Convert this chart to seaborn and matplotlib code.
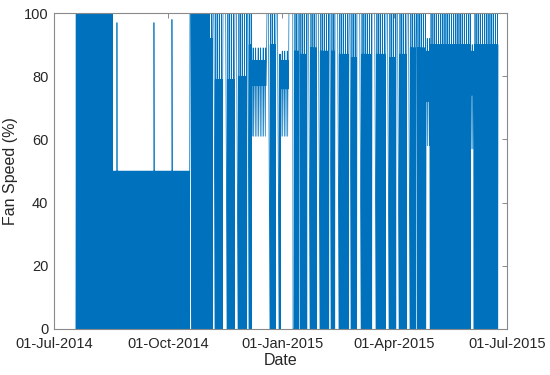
import numpy as np
import pandas as pd
import matplotlib
matplotlib.use("Agg")
import matplotlib.pyplot as plt
import matplotlib.dates as mdates
import seaborn as sns

# ---- data ---------------------------------------------------------------
# Contiguous periods of the record: boundaries (n+1) and per-period envelope
period_bounds = [
    "2014-07-18 17:00", "2014-08-17 12:00", "2014-10-18 14:00", "2014-10-19 22:00",
    "2014-11-02 12:00", "2014-11-06 02:00", "2014-11-07 17:00", "2014-11-14 05:00",
    "2014-11-17 10:00", "2014-11-23 19:00", "2014-11-26 07:00", "2014-12-03 12:00",
    "2014-12-05 02:00", "2014-12-07 12:00", "2014-12-19 14:00", "2014-12-22 00:00",
    "2014-12-26 22:00", "2014-12-29 07:00", "2014-12-30 22:00", "2015-01-06 07:00",
    "2015-01-10 10:00", "2015-01-14 10:00", "2015-01-15 05:00", "2015-01-20 22:00",
    "2015-01-23 07:00", "2015-01-28 22:00", "2015-01-31 07:00", "2015-02-07 14:00",
    "2015-02-09 05:00", "2015-02-12 10:00", "2015-02-15 14:00", "2015-02-23 17:00",
    "2015-02-25 07:00", "2015-03-02 02:00", "2015-03-05 10:00", "2015-03-14 05:00",
    "2015-03-17 10:00", "2015-03-25 12:00", "2015-03-27 22:00", "2015-04-02 14:00",
    "2015-04-05 00:00", "2015-04-11 10:00", "2015-04-13 19:00", "2015-04-18 17:00",
    "2015-04-19 12:00", "2015-04-26 17:00", "2015-04-30 00:00", "2015-06-02 00:00",
    "2015-06-04 10:00", "2015-06-23 17:00",
]
period_kind = [
    "cycling", "cycling", "steady", "cycling", "cycling", "steady", "cycling", "steady",
    "cycling", "steady", "cycling", "steady", "cycling", "modulating", "steady", "cycling",
    "steady", "cycling", "modulating", "steady", "cycling", "steady", "cycling", "steady",
    "cycling", "steady", "cycling", "steady", "cycling", "steady", "cycling", "steady",
    "cycling", "steady", "cycling", "steady", "cycling", "steady", "cycling", "steady",
    "cycling", "steady", "cycling", "steady", "cycling", "modulating", "cycling", "modulating",
    "cycling",
]
low_min = [0, 0, 100, 0, 0, 100, 0, 100, 0, 100, 0, 100, 0, 61, 100, 0, 100, 0, 61, 100,
           0, 100, 0, 100, 0, 100, 0, 100, 0, 100, 0, 100, 0, 100, 0, 100, 0, 100, 0, 100,
           0, 100, 0, 100, 0, 58, 0, 57, 0]
low_typ = [0, 0, 100, 0, 0, 100, 0, 100, 0, 100, 0, 100, 0, 77, 100, 0, 100, 0, 76, 100,
           0, 100, 0, 100, 0, 100, 0, 100, 0, 100, 0, 100, 0, 100, 0, 100, 0, 100, 0, 100,
           0, 100, 0, 100, 0, 72, 0, 74, 0]
high_typ = [100, 50, 100, 100, 92, 100, 79, 100, 79, 100, 80, 100, 90, 85, 100, 90, 100, 87, 85, 100,
            88, 100, 87, 100, 89, 100, 88, 100, 88, 100, 87, 100, 86, 100, 87, 100, 87, 100, 86, 100,
            87, 100, 89, 100, 89, 88, 90, 88, 90]
high_max = [100, 50, 100, 100, 100, 100, 100, 100, 100, 100, 100, 100, 100, 89, 100, 100, 100, 87, 88, 100,
            100, 100, 100, 100, 100, 100, 100, 100, 100, 100, 100, 100, 100, 100, 100, 100, 100, 100, 100, 100,
            100, 100, 100, 100, 100, 92, 100, 90, 100]

# isolated excursions
spike_time = ["2014-08-20 19:00", "2014-09-19 14:00", "2014-10-04 02:00", "2015-01-09 14:00"]
spike_value = [97, 97, 98, 0]

y_ticks = [0, 20, 40, 60, 80, 100]
x_ticks = ["2014-07-01", "2014-10-01", "2015-01-01", "2015-04-01", "2015-07-01"]

# ---- build the sample series --------------------------------------------
samples_per_day = {"cycling": 4.0, "modulating": 3.0, "steady": 1.0}
times, speeds = [], []
for i, kind in enumerate(period_kind):
    t0 = pd.Timestamp(period_bounds[i])
    t1 = pd.Timestamp(period_bounds[i + 1])
    days = (t1 - t0) / pd.Timedelta(days=1)
    n = max(2, int(round(days * samples_per_day[kind])))
    ts = pd.date_range(t0, t1, periods=n + 1)[:-1]
    for k, t in enumerate(ts):
        if k % 2 == 0:
            v = low_min[i] if (k // 2) % 2 == 0 else low_typ[i]
        else:
            v = high_max[i] if (k // 2) % 3 == 1 else high_typ[i]
        times.append(t)
        speeds.append(v)
times.append(pd.Timestamp(period_bounds[-1]))
speeds.append(high_typ[-1])
for t, v in zip(spike_time, spike_value):
    times.append(pd.Timestamp(t))
    speeds.append(v)

df = pd.DataFrame({"Date": times, "Fan Speed (%)": speeds}).sort_values("Date")

# ---- plot ---------------------------------------------------------------
sns.set_style("white")
plt.rcParams["font.family"] = ["Liberation Sans", "DejaVu Sans"]

fig, ax = plt.subplots(figsize=(5.5, 3.75), dpi=100)
fig.subplots_adjust(left=0.098, right=0.922, bottom=0.123, top=0.965)

sns.lineplot(data=df, x="Date", y="Fan Speed (%)", estimator=None, sort=True,
             color="#0072BD", linewidth=0.5, ax=ax)

ax.set_xlim(pd.Timestamp(x_ticks[0]), pd.Timestamp(x_ticks[-1]))
ax.set_ylim(0, 100)
ax.set_xticks([pd.Timestamp(t) for t in x_ticks])
ax.xaxis.set_major_formatter(mdates.DateFormatter("%d-%b-%Y"))
ax.set_yticks(y_ticks)

for sp in ax.spines.values():
    sp.set_color("#8a8a8a")
    sp.set_linewidth(0.8)
    sp.set_visible(True)
ax.tick_params(direction="in", top=True, right=True, length=3.5, width=0.7,
               color="#8a8a8a", labelcolor="#262626", labelsize=10.5)
ax.tick_params(axis="x", pad=6)
ax.tick_params(axis="y", pad=4)
ax.set_xlabel("Date", fontsize=11.5, color="#262626", labelpad=1)
ax.set_ylabel("Fan Speed (%)", fontsize=11.5, color="#262626", labelpad=4)

fig.savefig("out.png", dpi=100)
